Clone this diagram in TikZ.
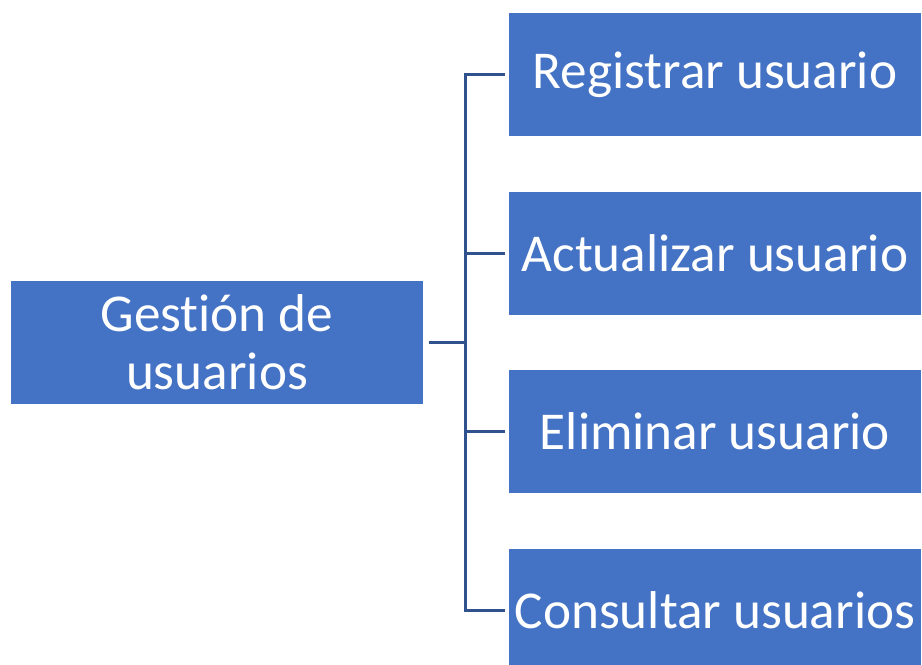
\documentclass[tikz,border=0pt]{standalone}
\usepackage{fontspec}
\setmainfont[Ligatures=NoCommon]{Carlito}
\usetikzlibrary{positioning}
\definecolor{boxblue}{HTML}{4472C4}
\definecolor{linkblue}{HTML}{2F528F}

\begin{document}
\begin{tikzpicture}[
    x=0.02cm, y=-0.02cm,
    every node/.style={font=\fontsize{30.3}{33}\selectfont},
    box/.style={rectangle, fill=boxblue, text=white, minimum width=8.24cm, minimum height=2.46cm, inner sep=0pt, align=center},
    link/.style={draw=linkblue, line width=1.7pt}
]
\clip (0, 0) rectangle (922, 664);

% ============ MAIN TASK (LEFT) ============
\node[box] (gestion) at (217, 342) {Gestión de\\usuarios};

% ============ SUB TASKS (RIGHT) ============
\node[box] (registrar) at (715, 74.5) {Registrar usuario};
\node[box] (actualizar) at (715, 253) {Actualizar usuario};
\node[box] (eliminar) at (715, 431.5) {Eliminar usuario};
\node[box] (consultar) at (715, 610) {Consultar usuarios};

% Connectors
\coordinate (spine) at (465, 342);
\draw[link, shorten <=3pt] (gestion.east) -- (spine);
\draw[link, shorten >=2pt] (spine) |- (registrar.west);
\draw[link, shorten >=2pt] (spine) |- (actualizar.west);
\draw[link, shorten >=2pt] (spine) |- (eliminar.west);
\draw[link, shorten >=2pt] (spine) |- (consultar.west);

\end{tikzpicture}
\end{document}
